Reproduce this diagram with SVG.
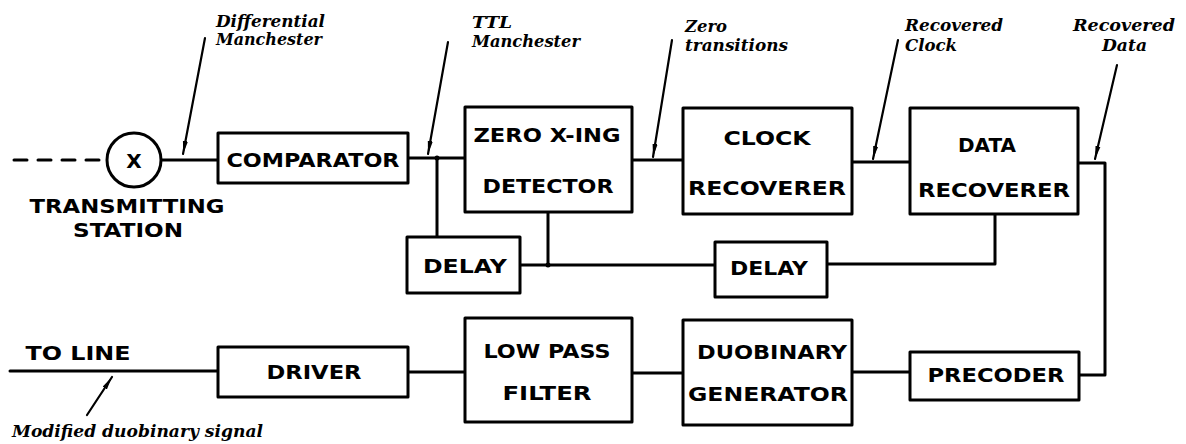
<svg xmlns="http://www.w3.org/2000/svg" width="1186" height="444" viewBox="0 0 1186 444">
<defs>
<style>
.box{fill:#fff;stroke:#000;stroke-width:3;stroke-linejoin:round}
.w{fill:none;stroke:#000;stroke-width:3;stroke-linejoin:round;stroke-linecap:round}
.p{fill:none;stroke:#000;stroke-width:2.2;stroke-linecap:round}
.t{font-family:"DejaVu Sans","Liberation Sans",sans-serif;font-weight:bold;font-size:20px;fill:#000;text-anchor:middle}
.l{font-family:"DejaVu Serif","Liberation Serif",serif;font-weight:bold;font-style:italic;font-size:16px;fill:#000}
</style>
<marker id="ah" markerUnits="userSpaceOnUse" markerWidth="16" markerHeight="10" refX="13" refY="5" orient="auto">
<path d="M0,2.5 L13,5 L0,7.5 Q-1.5,5 0,2.5 z" fill="#000"/>
</marker>
</defs>

<g id="connectors">
<line class="w" x1="14" y1="160" x2="106" y2="160" stroke-dasharray="13 11"/>
<line class="w" x1="161" y1="160" x2="218" y2="160"/>
<line class="w" x1="408" y1="158" x2="465" y2="158"/>
<polyline class="w" points="437,158 437,237"/>
<line class="w" x1="632" y1="160" x2="683" y2="160"/>
<line class="w" x1="852" y1="162" x2="910" y2="162"/>
<polyline class="w" points="1078,163 1105,163 1105,375 1079,375"/>
<polyline class="w" points="548,212 548,265"/>
<line class="w" x1="520" y1="265" x2="715" y2="265"/>
<polyline class="w" points="827,264 995,264 995,214"/>
<line class="w" x1="10" y1="371" x2="218" y2="371"/>
<line class="w" x1="408" y1="372" x2="465" y2="372"/>
<line class="w" x1="632" y1="373" x2="683" y2="373"/>
<line class="w" x1="852" y1="372" x2="910" y2="372"/>
<circle cx="437" cy="158" r="2.5" fill="#000"/>
<circle cx="548" cy="265" r="2.5" fill="#000"/>
<line class="p" x1="205" y1="38" x2="183" y2="154" marker-end="url(#ah)"/>
<line class="p" x1="448" y1="42" x2="428" y2="154" marker-end="url(#ah)"/>
<line class="p" x1="672" y1="40" x2="653" y2="157" marker-end="url(#ah)"/>
<line class="p" x1="898" y1="40" x2="873" y2="159" marker-end="url(#ah)"/>
<line class="p" x1="1117" y1="65" x2="1095" y2="159" marker-end="url(#ah)"/>
<line class="p" x1="87" y1="415" x2="112" y2="377" marker-end="url(#ah)"/>
</g>

<g id="station">
<circle cx="134" cy="160" r="27" fill="#fff" stroke="#000" stroke-width="3"/>
<text class="t" x="134" y="168" font-size="19">X</text>
<text class="t" x="127" y="213" textLength="195" lengthAdjust="spacingAndGlyphs">TRANSMITTING</text>
<text class="t" x="128" y="237" textLength="110" lengthAdjust="spacingAndGlyphs">STATION</text>
</g>

<g id="comparator">
<rect class="box" x="218" y="133" width="190" height="50"/>
<text class="t" x="313" y="167" textLength="173" lengthAdjust="spacingAndGlyphs">COMPARATOR</text>
</g>

<g id="zero-detector">
<rect class="box" x="465" y="107" width="167" height="105"/>
<text class="t" x="547" y="142" textLength="147" lengthAdjust="spacingAndGlyphs">ZERO X-ING</text>
<text class="t" x="548" y="193" textLength="131" lengthAdjust="spacingAndGlyphs">DETECTOR</text>
</g>

<g id="clock-recoverer">
<rect class="box" x="683" y="108" width="169" height="106"/>
<text class="t" x="767" y="145" textLength="87" lengthAdjust="spacingAndGlyphs">CLOCK</text>
<text class="t" x="767" y="195" textLength="158" lengthAdjust="spacingAndGlyphs">RECOVERER</text>
</g>

<g id="data-recoverer">
<rect class="box" x="910" y="108" width="168" height="106"/>
<text class="t" x="987" y="152" textLength="58" lengthAdjust="spacingAndGlyphs">DATA</text>
<text class="t" x="994" y="197" textLength="152" lengthAdjust="spacingAndGlyphs">RECOVERER</text>
</g>

<g id="delay1">
<rect class="box" x="407" y="237" width="113" height="56"/>
<text class="t" x="465" y="273" textLength="84" lengthAdjust="spacingAndGlyphs">DELAY</text>
</g>

<g id="delay2">
<rect class="box" x="715" y="242" width="112" height="55"/>
<text class="t" x="769" y="275" textLength="78" lengthAdjust="spacingAndGlyphs">DELAY</text>
</g>

<g id="to-line">
<text class="t" x="78" y="360" textLength="105" lengthAdjust="spacingAndGlyphs">TO LINE</text>
</g>

<g id="driver">
<rect class="box" x="218" y="347" width="190" height="50"/>
<text class="t" x="314" y="379" textLength="95" lengthAdjust="spacingAndGlyphs">DRIVER</text>
</g>

<g id="low-pass-filter">
<rect class="box" x="465" y="318" width="167" height="104"/>
<text class="t" x="547" y="358" textLength="127" lengthAdjust="spacingAndGlyphs">LOW PASS</text>
<text class="t" x="547" y="400" textLength="89" lengthAdjust="spacingAndGlyphs">FILTER</text>
</g>

<g id="duobinary-generator">
<rect class="box" x="683" y="320" width="169" height="105"/>
<text class="t" x="772" y="359" textLength="150" lengthAdjust="spacingAndGlyphs">DUOBINARY</text>
<text class="t" x="768" y="401" textLength="160" lengthAdjust="spacingAndGlyphs">GENERATOR</text>
</g>

<g id="precoder">
<rect class="box" x="910" y="352" width="169" height="48"/>
<text class="t" x="996" y="382" textLength="137" lengthAdjust="spacingAndGlyphs">PRECODER</text>
</g>

<g id="labels">
<text class="l" x="216" y="27" textLength="109" lengthAdjust="spacingAndGlyphs">Differential</text>
<text class="l" x="216" y="45" textLength="106" lengthAdjust="spacingAndGlyphs">Manchester</text>
<text class="l" x="472" y="28" textLength="40" lengthAdjust="spacingAndGlyphs">TTL</text>
<text class="l" x="472" y="47" textLength="108" lengthAdjust="spacingAndGlyphs">Manchester</text>
<text class="l" x="685" y="32" textLength="42" lengthAdjust="spacingAndGlyphs">Zero</text>
<text class="l" x="685" y="51" textLength="103" lengthAdjust="spacingAndGlyphs">transitions</text>
<text class="l" x="905" y="31" textLength="98" lengthAdjust="spacingAndGlyphs">Recovered</text>
<text class="l" x="905" y="51" textLength="52" lengthAdjust="spacingAndGlyphs">Clock</text>
<text class="l" x="1073" y="31" textLength="102" lengthAdjust="spacingAndGlyphs">Recovered</text>
<text class="l" x="1102" y="51" textLength="45" lengthAdjust="spacingAndGlyphs">Data</text>
<text class="l" x="12" y="437" textLength="251" lengthAdjust="spacingAndGlyphs">Modified duobinary signal</text>
</g>
</svg>
